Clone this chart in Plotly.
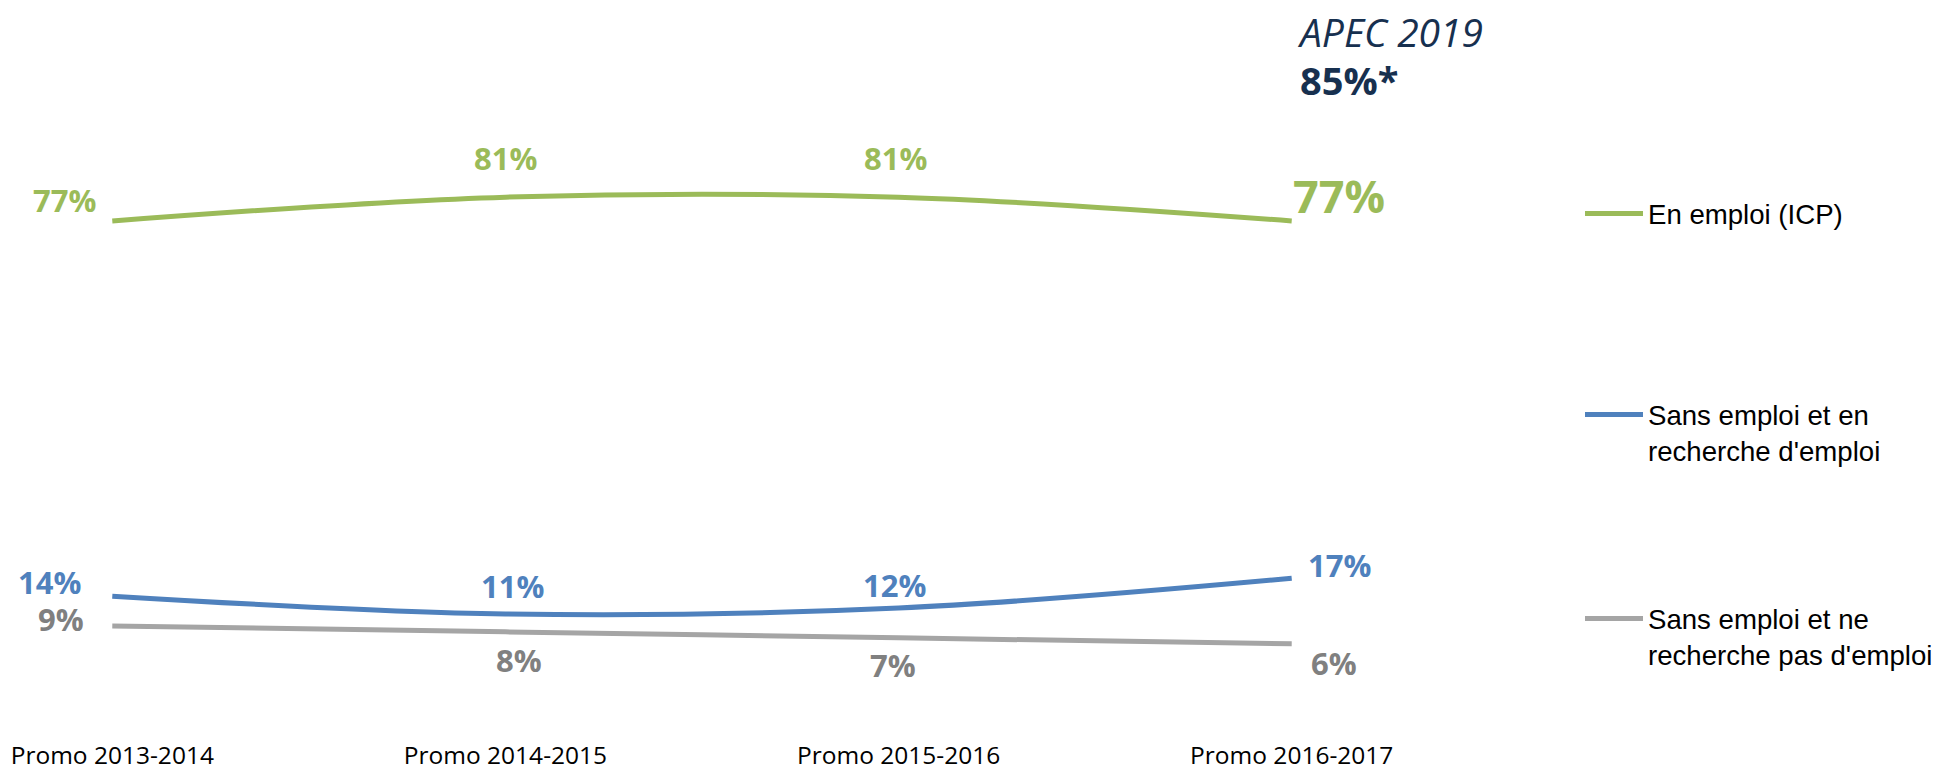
import plotly.graph_objects as go

# ---------------- data ----------------
categories = ["Promo 2013-2014", "Promo 2014-2015", "Promo 2015-2016", "Promo 2016-2017"]
en_emploi = [77, 81, 81, 77]
sans_emploi_recherche = [14, 11, 12, 17]
sans_emploi_pas_recherche = [9, 8, 7, 6]
series_names = [
    "En emploi (ICP)",
    "Sans emploi et en<br>recherche d'emploi",
    "Sans emploi et ne<br>recherche pas d'emploi",
]
apec_title = "APEC 2019"
apec_value = "85%*"

# ---------------- styles ----------------
GREEN = "#9BBB59"
BLUE = "#4F81BD"
GRAY = "#A5A5A5"
GRAY_TXT = "#808080"
NAVY = "#17304F"
LABEL_FONT = "Open Sans"
LEGEND_FONT = "Liberation Sans, Arial"

W, H = 1940, 769
ML, MR, MT, MB = 14, 550, 84, 31
pw, ph = W - ML - MR, H - MT - MB
Y_MIN = 100 - ph / 5.955

x_idx = list(range(len(categories)))

fig = go.Figure()
series = [
    (en_emploi, GREEN, "legend"),
    (sans_emploi_recherche, BLUE, "legend2"),
    (sans_emploi_pas_recherche, GRAY, "legend3"),
]
for (vals, col, lg), name in zip(series, series_names):
    fig.add_trace(go.Scatter(
        x=x_idx, y=vals, mode="lines", name=name,
        line=dict(color=col, width=5, shape="spline"),
        legend=lg, hoverinfo="skip",
    ))

# data label offsets (pixels) relative to each point
green_off = [(-48, 21), (0, 39), (-3, 39), (47, 25)]
blue_off = [(-63, 14), (7, 28), (-4, 23), (48, 13)]
gray_off = [(-51, 7), (14, -28), (-6, -27), (42, -19)]
green_size = [31, 31, 31, 45]

annotations = []
for i, v in enumerate(en_emploi):
    dx, dy = green_off[i]
    annotations.append(dict(x=i, y=v, xref="x", yref="y", text=f"<b>{v}%</b>",
                            showarrow=False, xshift=dx, yshift=dy,
                            font=dict(family=LABEL_FONT, size=green_size[i], color=GREEN)))
for i, v in enumerate(sans_emploi_recherche):
    dx, dy = blue_off[i]
    annotations.append(dict(x=i, y=v, xref="x", yref="y", text=f"<b>{v}%</b>",
                            showarrow=False, xshift=dx, yshift=dy,
                            font=dict(family=LABEL_FONT, size=31, color=BLUE)))
for i, v in enumerate(sans_emploi_pas_recherche):
    dx, dy = gray_off[i]
    annotations.append(dict(x=i, y=v, xref="x", yref="y", text=f"<b>{v}%</b>",
                            showarrow=False, xshift=dx, yshift=dy,
                            font=dict(family=LABEL_FONT, size=31, color=GRAY_TXT)))


def paper_xy(px, py):
    return (px - ML) / pw, 1 - (py - MT) / ph


ax, ay = paper_xy(1295, 31)
annotations.append(dict(x=ax, y=ay, xref="paper", yref="paper",
                        text=f"<i>{apec_title}</i>", showarrow=False,
                        xanchor="left", yanchor="middle",
                        font=dict(family=LABEL_FONT, size=39, color=NAVY)))
ax, ay = paper_xy(1298, 80)
annotations.append(dict(x=ax, y=ay, xref="paper", yref="paper",
                        text=f"<b>{apec_value}</b>", showarrow=False,
                        xanchor="left", yanchor="middle",
                        font=dict(family=LABEL_FONT, size=38, color=NAVY)))

legend_common = dict(
    xref="container", yref="container", xanchor="left", yanchor="top",
    font=dict(family=LEGEND_FONT, size=27.6, color="#000000"),
    bgcolor="rgba(0,0,0,0)", itemwidth=58, valign="top",
    borderwidth=0, tracegroupgap=0,
)

fig.update_layout(
    width=W, height=H,
    margin=dict(l=ML, r=MR, t=MT, b=MB, autoexpand=False),
    paper_bgcolor="white", plot_bgcolor="white",
    showlegend=True,
    xaxis=dict(range=[-0.25, 3.25], tickvals=x_idx, ticktext=categories,
               showgrid=False, zeroline=False, showline=False, ticks="",
               automargin=False,
               tickfont=dict(family=LABEL_FONT, size=24.5, color="#000000")),
    yaxis=dict(range=[Y_MIN, 100], visible=False, showgrid=False, zeroline=False,
               automargin=False),
    legend=dict(x=1580 / W, y=1 - 189 / H, **legend_common),
    legend2=dict(x=1580 / W, y=1 - 390 / H, **legend_common),
    legend3=dict(x=1580 / W, y=1 - 594 / H, **legend_common),
    annotations=annotations,
)

fig.write_html(
    "out.html",
    config={"displayModeBar": False},
    post_script="document.body.style.margin='0';document.body.style.overflow='hidden';",
)
